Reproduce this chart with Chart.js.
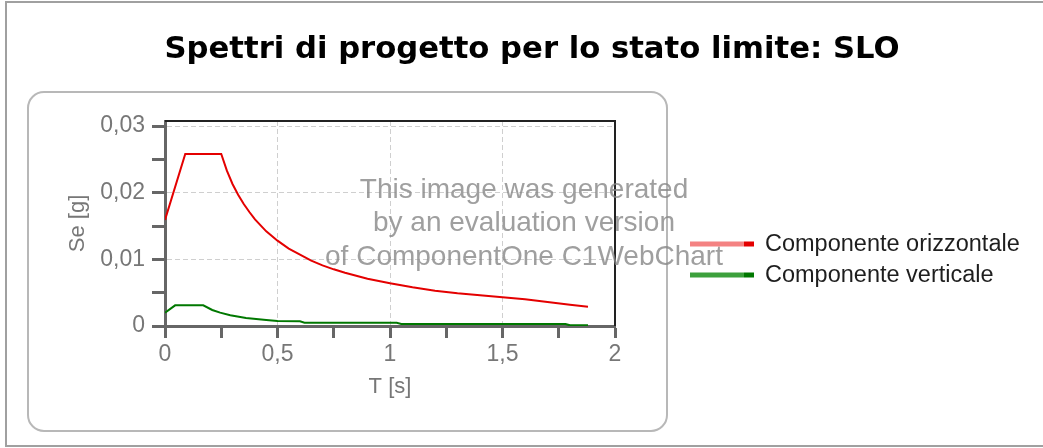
<!DOCTYPE html>
<html lang="it">
<head>
    <meta charset="UTF-8">
    <title>Spettri SLO</title>
    <script src="https://cdn.jsdelivr.net/npm/chart.js"></script>
    <style>
        html, body { margin: 0; padding: 0; background: #fff; }
        #wrap { width: 1043px; height: 448px; position: relative; }
    </style>
</head>
<body>
    <div id="wrap">
        <canvas id="spettri" width="1043" height="448"></canvas>
    </div>

    <script>
        // Periodi T [s] e ordinate Se [g]
        const tOrizz = [0, 0.09, 0.25, 0.275, 0.3, 0.325, 0.35, 0.375, 0.4, 0.425, 0.45, 0.475, 0.5, 0.55, 0.6, 0.65, 0.7, 0.75, 0.8, 0.9, 1.0, 1.1, 1.2, 1.3, 1.4, 1.5, 1.6, 1.7, 1.8, 1.88];
        const seOrizz = [0.0159, 0.0258, 0.0258, 0.0233, 0.0213, 0.0197, 0.0183, 0.0171, 0.016, 0.0151, 0.0142, 0.0135, 0.0128, 0.0116, 0.0107, 0.0098, 0.0091, 0.0085, 0.008, 0.0071, 0.0064, 0.0058, 0.0053, 0.0049, 0.0046, 0.0043, 0.004, 0.0036, 0.0032, 0.0029];

        const tVert = [0, 0.045, 0.17, 0.21, 0.245, 0.29, 0.36, 0.45, 0.5, 0.6, 0.62, 1.03, 1.05, 1.78, 1.8, 1.88];
        const seVert = [0.002, 0.0031, 0.0031, 0.0024, 0.002, 0.0016, 0.0012, 0.0009, 0.00075, 0.0007, 0.0005, 0.0005, 0.0003, 0.0003, 0.0001, 0.0001];

        const xTicks = [0, 0.25, 0.5, 0.75, 1, 1.25, 1.5, 1.75, 2];
        const xMajor = [0, 0.5, 1, 1.5, 2];
        const yTicks = [0, 0.005, 0.01, 0.015, 0.02, 0.025, 0.03];
        const yMajor = [0, 0.01, 0.02, 0.03];

        const titolo = 'Spettri di progetto per lo stato limite: SLO';
        const filigrana = ['This image was generated', 'by an evaluation version', 'of ComponentOne C1WebChart'];

        function punti(xs, ys) {
            return xs.map((x, i) => ({ x: x, y: ys[i] }));
        }
        function isMajor(list, v) {
            return list.some(m => Math.abs(m - v) < 1e-9);
        }
        function virgola(v) {
            return String(+v.toFixed(4)).replace('.', ',');
        }

        // Cornice, riquadro arrotondato, titolo, legenda e filigrana
        const decorazioni = {
            id: 'decorazioni',
            beforeDraw(chart) {
                const ctx = chart.ctx;
                ctx.save();
                ctx.fillStyle = '#fff';
                ctx.fillRect(0, 0, chart.width, chart.height);
                ctx.strokeStyle = '#a0a0a0';
                ctx.lineWidth = 2;
                ctx.strokeRect(6, 2, 1100, 444);

                ctx.strokeStyle = '#b8b8b8';
                ctx.lineWidth = 2;
                ctx.beginPath();
                ctx.roundRect(28, 92, 639, 339, 16);
                ctx.stroke();

                ctx.fillStyle = '#000';
                ctx.font = 'bold 31px "DejaVu Sans"';
                const w = ctx.measureText(titolo).width;
                ctx.translate(532, 58);
                ctx.scale(735 / w, 1);
                ctx.textAlign = 'center';
                ctx.textBaseline = 'alphabetic';
                ctx.fillText(titolo, 0, 0);
                ctx.restore();
            },
            afterDraw(chart) {
                const ctx = chart.ctx;
                const a = chart.chartArea;
                ctx.save();
                // bordo superiore e destro dell'area del grafico
                ctx.strokeStyle = '#222';
                ctx.lineWidth = 2;
                ctx.beginPath();
                ctx.moveTo(a.left, a.top);
                ctx.lineTo(a.right, a.top);
                ctx.lineTo(a.right, a.bottom);
                ctx.stroke();

                // filigrana
                ctx.fillStyle = 'rgba(135,135,135,0.8)';
                ctx.font = '28px "Liberation Sans"';
                ctx.textAlign = 'center';
                ctx.textBaseline = 'middle';
                filigrana.forEach((r, i) => ctx.fillText(r, 524, 190 + i * 33.5));

                // legenda
                ctx.font = '23.5px "Liberation Sans"';
                ctx.textAlign = 'left';
                chart.data.datasets.forEach((ds, i) => {
                    const y = 244 + i * 31;
                    ctx.fillStyle = ds.legendLight;
                    ctx.fillRect(690, y - 2.5, 54, 5);
                    ctx.fillStyle = ds.borderColor;
                    ctx.fillRect(744, y - 2.5, 10, 5);
                    ctx.fillStyle = '#1e1e1e';
                    ctx.fillText(ds.label, 765, y + 1);
                });
                ctx.restore();
            }
        };

        const ctx = document.getElementById('spettri').getContext('2d');
        new Chart(ctx, {
            type: 'line',
            data: {
                datasets: [
                    {
                        label: 'Componente orizzontale',
                        data: punti(tOrizz, seOrizz),
                        borderColor: 'rgb(228,0,0)',
                        legendLight: 'rgb(244,130,130)',
                        borderWidth: 2,
                        pointRadius: 0,
                        tension: 0
                    },
                    {
                        label: 'Componente verticale',
                        data: punti(tVert, seVert),
                        borderColor: 'rgb(0,120,0)',
                        legendLight: 'rgb(60,160,60)',
                        borderWidth: 2,
                        pointRadius: 0,
                        tension: 0
                    }
                ]
            },
            options: {
                responsive: false,
                animation: false,
                events: [],
                layout: { padding: { left: 61, right: 428, top: 121, bottom: 42 } },
                plugins: {
                    legend: { display: false },
                    tooltip: { enabled: false }
                },
                scales: {
                    x: {
                        type: 'linear',
                        min: 0,
                        max: 2,
                        afterBuildTicks: s => { s.ticks = xTicks.map(v => ({ value: v })); },
                        afterFit: s => { s.height = 80; },
                        ticks: {
                            color: '#777',
                            font: { family: 'Liberation Sans', size: 23 },
                            padding: 3,
                            maxRotation: 0,
                            autoSkip: false,
                            callback: v => isMajor(xMajor, v) ? virgola(v) : ''
                        },
                        grid: {
                            color: c => (c.tick && isMajor(xMajor, c.tick.value) && c.tick.value > 0 && c.tick.value < 2) ? '#cfcfcf' : 'rgba(0,0,0,0)',
                            lineWidth: 1,
                            tickColor: '#666',
                            tickLength: 12,
                            tickWidth: 3
                        },
                        border: { color: '#666', width: 3, dash: [5, 3] },
                        title: {
                            display: true,
                            text: 'T [s]',
                            color: '#777',
                            font: { family: 'Liberation Sans', size: 22 },
                            padding: { top: 0, bottom: 6 }
                        }
                    },
                    y: {
                        type: 'linear',
                        min: 0,
                        max: 0.03075,
                        afterBuildTicks: s => { s.ticks = yTicks.map(v => ({ value: v })); },
                        afterFit: s => { s.width = 104; },
                        ticks: {
                            color: '#777',
                            font: { family: 'Liberation Sans', size: 23 },
                            padding: 7,
                            autoSkip: false,
                            callback: v => isMajor(yMajor, v) ? virgola(v) : ''
                        },
                        grid: {
                            color: c => (c.tick && isMajor(yMajor, c.tick.value) && c.tick.value > 0) ? '#cfcfcf' : 'rgba(0,0,0,0)',
                            lineWidth: 1,
                            tickColor: '#666',
                            tickLength: 13,
                            tickWidth: 3
                        },
                        border: { color: '#666', width: 3, dash: [5, 3] },
                        title: {
                            display: true,
                            text: 'Se [g]',
                            color: '#777',
                            font: { family: 'Liberation Sans', size: 22 },
                            padding: { top: 4, bottom: 0 }
                        }
                    }
                }
            },
            plugins: [decorazioni]
        });
    </script>
</body>
</html>
